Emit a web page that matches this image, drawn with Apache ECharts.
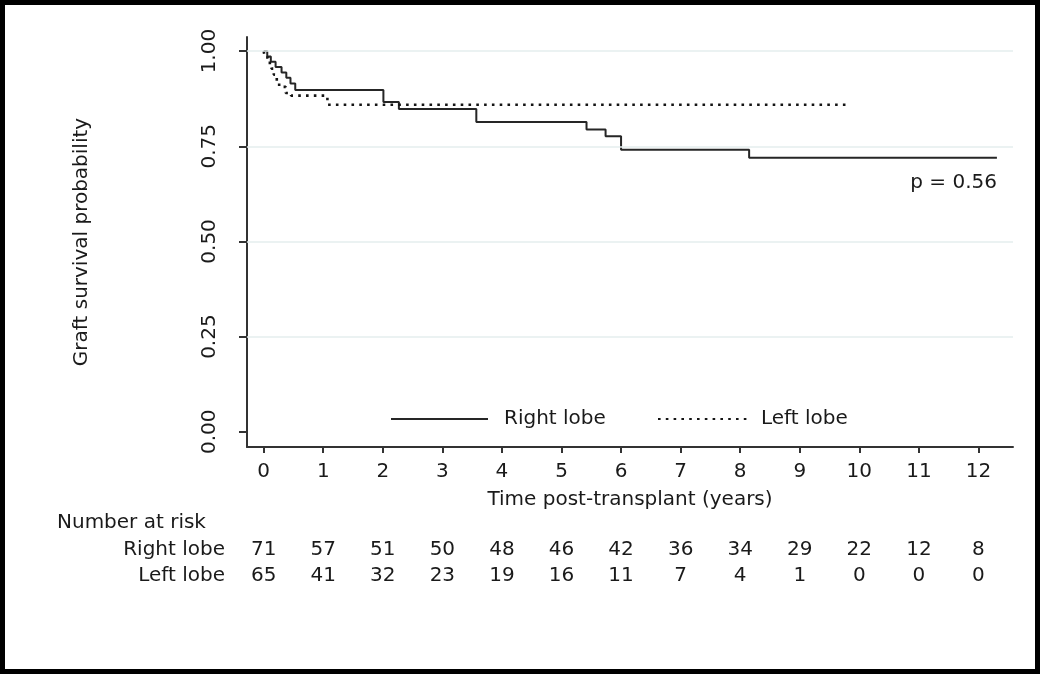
<!DOCTYPE html>
<html>
<head>
<meta charset="utf-8">
<script src="https://cdn.jsdelivr.net/npm/echarts@6/dist/echarts.min.js"></script>
<style>
  html, body { margin: 0; padding: 0; background: #fff; }
  #chart { width: 1040px; height: 675px; }
</style>
</head>
<body>
<div id="chart"></div>
<script>
// ---- data ----
const years = [0, 1, 2, 3, 4, 5, 6, 7, 8, 9, 10, 11, 12];
const yTicks = [0, 0.25, 0.5, 0.75, 1];
const gridLevels = [0.25, 0.5, 0.75, 1];

const rightTimes = [0, 0.06, 0.12, 0.2, 0.3, 0.38, 0.45, 0.53, 2.01, 2.27, 3.57, 5.42, 5.74, 6.0, 8.15, 12.31];
const rightSurv  = [1.0, 0.986, 0.972, 0.958, 0.944, 0.93, 0.915, 0.898, 0.866, 0.848, 0.814, 0.794, 0.776, 0.741, 0.72, 0.72];

const leftTimes = [0, 0.02, 0.08, 0.13, 0.17, 0.22, 0.26, 0.37, 0.46, 1.07, 9.83];
const leftSurv  = [1.0, 0.983, 0.969, 0.954, 0.938, 0.922, 0.906, 0.89, 0.883, 0.859, 0.859];

const riskRight = [71, 57, 51, 50, 48, 46, 42, 36, 34, 29, 22, 12, 8];
const riskLeft  = [65, 41, 32, 23, 19, 16, 11, 7, 4, 1, 0, 0, 0];
const groups = ['Right lobe', 'Left lobe'];

// ---- chart ----
const FONT = 'DejaVu Sans';
const TXT = '#1a1a1a';
const AX = '#333333';
const xMin = -0.28, xMax = 12.58;

const chart = echarts.init(document.getElementById('chart'), null, { renderer: 'canvas' });

const legendBase = {
  top: 409, itemHeight: 14, selectedMode: false, padding: 0,
  itemStyle: { opacity: 0 }
};

const option = {
  backgroundColor: '#ffffff',
  animation: false,
  textStyle: { fontFamily: FONT, color: TXT },
  legend: [
    Object.assign({}, legendBase, {
      data: [groups[0]], left: 390, itemWidth: 97,
      textStyle: { fontFamily: FONT, fontSize: 20, color: TXT, padding: [0, 0, 0, 11] }
    }),
    Object.assign({}, legendBase, {
      data: [groups[1]], left: 657, itemWidth: 90,
      textStyle: { fontFamily: FONT, fontSize: 20, color: TXT, padding: [0, 0, 0, 8] }
    })
  ],
  grid: [
    { left: 247, right: 27, top: 37, height: 410 },
    { left: 247, right: 27, top: 537.5, height: 51 }
  ],
  xAxis: [
    {
      type: 'value', gridIndex: 0, min: xMin, max: xMax,
      name: 'Time post-transplant (years)', nameLocation: 'middle', nameGap: 43,
      nameTextStyle: { fontFamily: FONT, fontSize: 20, color: TXT },
      axisLine: { show: true, onZero: false, lineStyle: { color: AX, width: 2 } },
      axisTick: { show: true, length: 6, customValues: years, lineStyle: { color: AX, width: 2 } },
      axisLabel: { customValues: years, fontFamily: FONT, fontSize: 20, color: TXT, margin: 15 },
      splitLine: { show: false }
    },
    {
      type: 'value', gridIndex: 1, min: xMin, max: xMax, show: false
    }
  ],
  yAxis: [
    {
      type: 'value', gridIndex: 0, min: -0.04, max: 1.037,
      name: 'Graft survival probability', nameLocation: 'middle', nameGap: 155,
      nameTextStyle: { fontFamily: FONT, fontSize: 20, color: TXT },
      axisLine: { show: true, onZero: false, lineStyle: { color: AX, width: 2 } },
      axisTick: { show: true, length: 8, customValues: yTicks, lineStyle: { color: AX, width: 2 } },
      axisLabel: {
        customValues: yTicks, rotate: 90, fontFamily: FONT, fontSize: 20, color: TXT, margin: 27,
        formatter: v => Number(v).toFixed(2)
      },
      splitLine: { show: false }
    },
    {
      type: 'category', gridIndex: 1, data: groups, inverse: true,
      axisLine: { show: false }, axisTick: { show: false },
      axisLabel: { interval: 0, fontFamily: FONT, fontSize: 20, color: TXT, margin: 22 }
    }
  ],
  graphic: [
    {
      type: 'text', left: 57, top: 513,
      style: { text: 'Number at risk', fontFamily: FONT, fontSize: 20, fill: TXT }
    },
    {
      type: 'text', right: 43, top: 173,
      style: { text: 'p = 0.56', fontFamily: FONT, fontSize: 20, fill: TXT }
    },
    {
      type: 'rect', z: 100, silent: true,
      shape: { x: 2.5, y: 2.5, width: 1035, height: 669 },
      style: { fill: 'none', stroke: '#000', lineWidth: 5 }
    }
  ],
  series: [
    {
      name: 'grid', type: 'line', xAxisIndex: 0, yAxisIndex: 0, data: [], z: 1, silent: true,
      markLine: {
        silent: true, symbol: 'none', animation: false,
        label: { show: false },
        lineStyle: { color: '#e4eeee', width: 1.5, type: 'solid' },
        data: gridLevels.map(v => ({ yAxis: v }))
      }
    },
    {
      name: groups[0], type: 'line', step: 'end', xAxisIndex: 0, yAxisIndex: 0,
      symbol: 'none', z: 3,
      lineStyle: { color: '#262626', width: 2, type: 'solid' },
      itemStyle: { color: '#262626' },
      data: rightTimes.map((t, i) => [t, rightSurv[i]])
    },
    {
      name: groups[1], type: 'line', step: 'end', xAxisIndex: 0, yAxisIndex: 0,
      symbol: 'none', z: 4,
      lineStyle: { color: '#141414', width: 2.6, type: [2.6, 5.2] },
      itemStyle: { color: '#141414' },
      data: leftTimes.map((t, i) => [t, leftSurv[i]])
    },
    {
      name: 'risk', type: 'scatter', xAxisIndex: 1, yAxisIndex: 1,
      symbolSize: 0.01, itemStyle: { color: '#ffffff', opacity: 1 }, silent: true,
      emphasis: { disabled: true },
      label: {
        show: true, position: 'inside', fontFamily: FONT, fontSize: 20, color: TXT,
        opacity: 1, textBorderWidth: 0, textBorderColor: 'transparent',
        formatter: p => String(p.value[2])
      },
      data: years.map((t, i) => [t, 0, riskRight[i]]).concat(years.map((t, i) => [t, 1, riskLeft[i]]))
    }
  ]
};

chart.setOption(option);
</script>
</body>
</html>
